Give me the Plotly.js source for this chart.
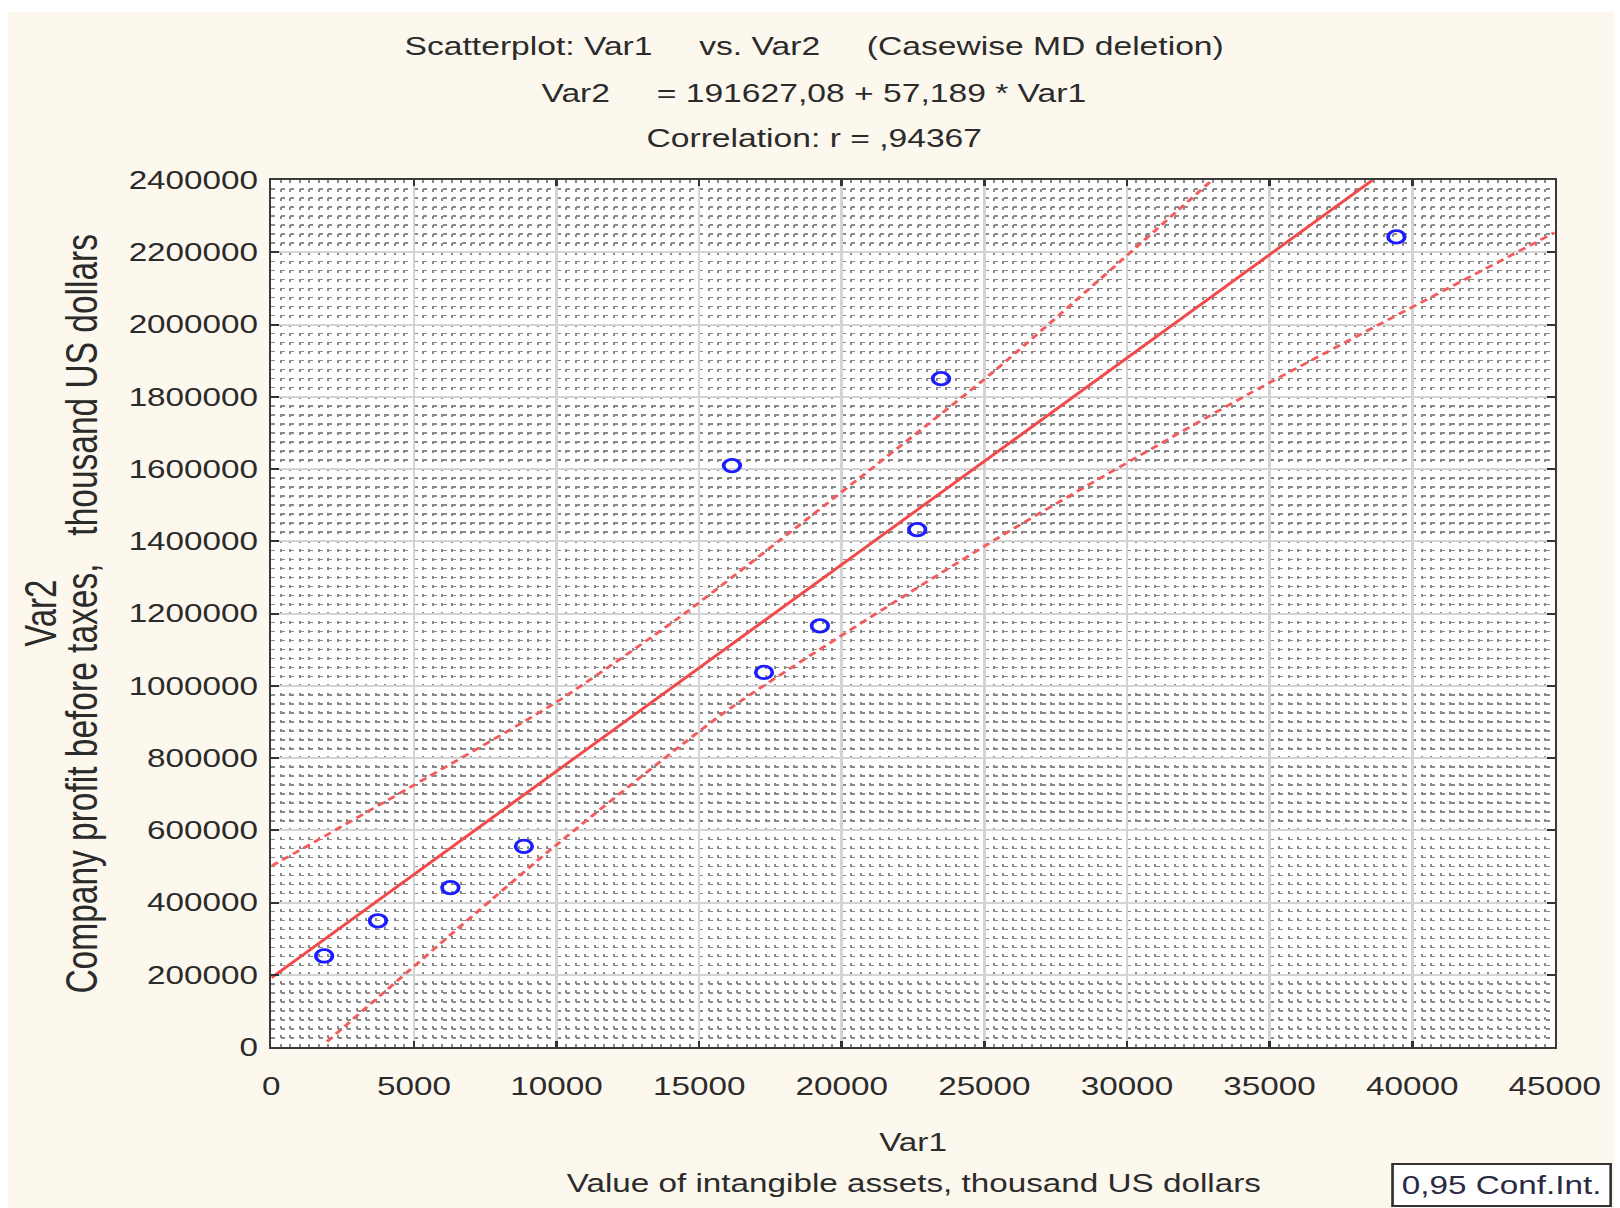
<!DOCTYPE html>
<html>
<head>
<meta charset="utf-8">
<script src="https://cdn.plot.ly/plotly-3.0.1.min.js"></script>
<style>
  html, body { margin: 0; padding: 0; background: #ffffff; overflow: hidden; width: 1620px; height: 1208px; }
  #plot { position: absolute; left: 8px; top: 12px; width: 1208px; height: 1196px;
          transform: scaleX(1.33); transform-origin: 0 0; }
</style>
</head>
<body>
<div id="plot"></div>
<script>
// ---- data ----
const assetsX = [1851, 3738, 6278, 8855, 16149, 17274, 19234, 22645, 23480, 39447];
const profitY = [252000, 349400, 441000, 555600, 1609500, 1036800, 1165600, 1432000, 1850000, 2242500];

const fitX = [0, 38613];
const fitY = [191627, 2400000];

const upperX = [0, 1016, 5000, 10000, 14334, 17839, 25304, 32988];
const upperY = [501000, 545400, 725000, 955000, 1191000, 1403500, 1868500, 2400000];

const lowerX = [1952, 9778, 16088, 25549, 34310, 45000];
const lowerY = [14700, 545400, 937500, 1412600, 1809500, 2254700];

const xTicks = [0, 5000, 10000, 15000, 20000, 25000, 30000, 35000, 40000, 45000];
const yTicks = [0, 200000, 400000, 600000, 800000, 1000000, 1200000, 1400000, 1600000, 1800000, 2000000, 2200000, 2400000];

const titleLines = [
  "Scatterplot: Var1\u00a0\u00a0\u00a0\u00a0\u00a0vs. Var2\u00a0\u00a0\u00a0\u00a0\u00a0(Casewise MD deletion)",
  "Var2\u00a0\u00a0\u00a0\u00a0\u00a0= 191627,08 + 57,189 * Var1",
  "Correlation: r = ,94367"
];
const xTitleLines = ["Var1", "Value of intangible assets, thousand US dollars"];
const yTitleLines = ["Var2", "Company profit before taxes,\u00a0\u00a0\u00a0thousand US dollars"];
const legendText = "0,95 Conf.Int.";

// ---- styles ----
const FONT = "Liberation Sans, Arial, sans-serif";
const TXT = "#2b2b2b";
const RED = "#f04a4a";

const traces = [
  { x: upperX, y: upperY, mode: "lines", line: { color: "#f25c5c", width: 2.6, dash: "6px,4px", shape: "spline", smoothing: 0.6 }, hoverinfo: "skip" },
  { x: lowerX, y: lowerY, mode: "lines", line: { color: "#f25c5c", width: 2.6, dash: "6px,4px", shape: "spline", smoothing: 0.6 }, hoverinfo: "skip" },
  { x: fitX, y: fitY, mode: "lines", line: { color: RED, width: 2.6 }, hoverinfo: "skip" },
  { x: assetsX, y: profitY, mode: "markers",
    marker: { symbol: "circle-open", size: 12.5, color: "#1c1cff", line: { width: 2.8, color: "#1c1cff" } } }
];

const axisCommon = {
  showline: true, linecolor: "#3a3a3a", linewidth: 2, mirror: "ticks",
  ticks: "inside", ticklen: 6, tickwidth: 2, tickcolor: "#333",
  showgrid: true, gridcolor: "#d4d4d4", gridwidth: 2,
  zeroline: false, tickformat: "d",
  tickfont: { family: FONT, size: 25, color: TXT },
  tickmode: "array"
};

const layout = {
  width: 1208, height: 1196,
  paper_bgcolor: "#fdf8ee", plot_bgcolor: "#ffffff",
  margin: { l: 198, r: 45, t: 168, b: 161 },
  showlegend: false,
  font: { family: FONT, size: 25, color: TXT },
  xaxis: Object.assign({}, axisCommon, {
    range: [0, 45000], tickvals: xTicks, ticktext: xTicks.map(String),
    ticklabelstandoff: 16,
    minor: { dtick: 5000 / 15, showgrid: true, gridcolor: "#8a8a8a", gridwidth: 1.5, griddash: "2.5px,6.5px", ticks: "" }
  }),
  yaxis: Object.assign({}, axisCommon, {
    range: [0, 2400000], tickvals: yTicks, ticktext: yTicks.map(String),
    ticklabelstandoff: 3,
    minor: { dtick: 25000, showgrid: true, gridcolor: "#8a8a8a", gridwidth: 1.5, griddash: "3px,4.15px", ticks: "" }
  }),
  annotations: [
    { text: titleLines[0], xref: "paper", yref: "paper", x: 0.4228, y: 1.1540, showarrow: false, xanchor: "center", yanchor: "middle", font: { size: 25.3 } },
    { text: titleLines[1], xref: "paper", yref: "paper", x: 0.4228, y: 1.1003, showarrow: false, xanchor: "center", yanchor: "middle", font: { size: 25.3 } },
    { text: titleLines[2], xref: "paper", yref: "paper", x: 0.4228, y: 1.0490, showarrow: false, xanchor: "center", yanchor: "middle", font: { size: 25.3 } },
    { text: xTitleLines[0], xref: "paper", yref: "paper", x: 0.5, y: -0.1096, showarrow: false, xanchor: "center", yanchor: "middle" },
    { text: xTitleLines[1], xref: "paper", yref: "paper", x: 0.5, y: -0.1569, showarrow: false, xanchor: "center", yanchor: "middle" },
    { text: yTitleLines[0], xref: "paper", yref: "paper", x: -0.1800, y: 0.5, textangle: -90, showarrow: false, xanchor: "center", yanchor: "middle", font: { size: 33 } },
    { text: yTitleLines[1], xref: "paper", yref: "paper", x: -0.1480, y: 0.5, textangle: -90, showarrow: false, xanchor: "center", yanchor: "middle", font: { size: 33.5 } },
    { text: legendText, xref: "paper", yref: "paper", x: 0.9585, y: -0.159, showarrow: false, xanchor: "center", yanchor: "middle",
      bordercolor: "#333", borderwidth: 2, borderpad: 6, bgcolor: "#ffffff", font: { family: FONT, size: 25, color: "#2a2a44" } }
  ]
};

Plotly.newPlot("plot", traces, layout, { displayModeBar: false, staticPlot: true });
</script>
</body>
</html>
